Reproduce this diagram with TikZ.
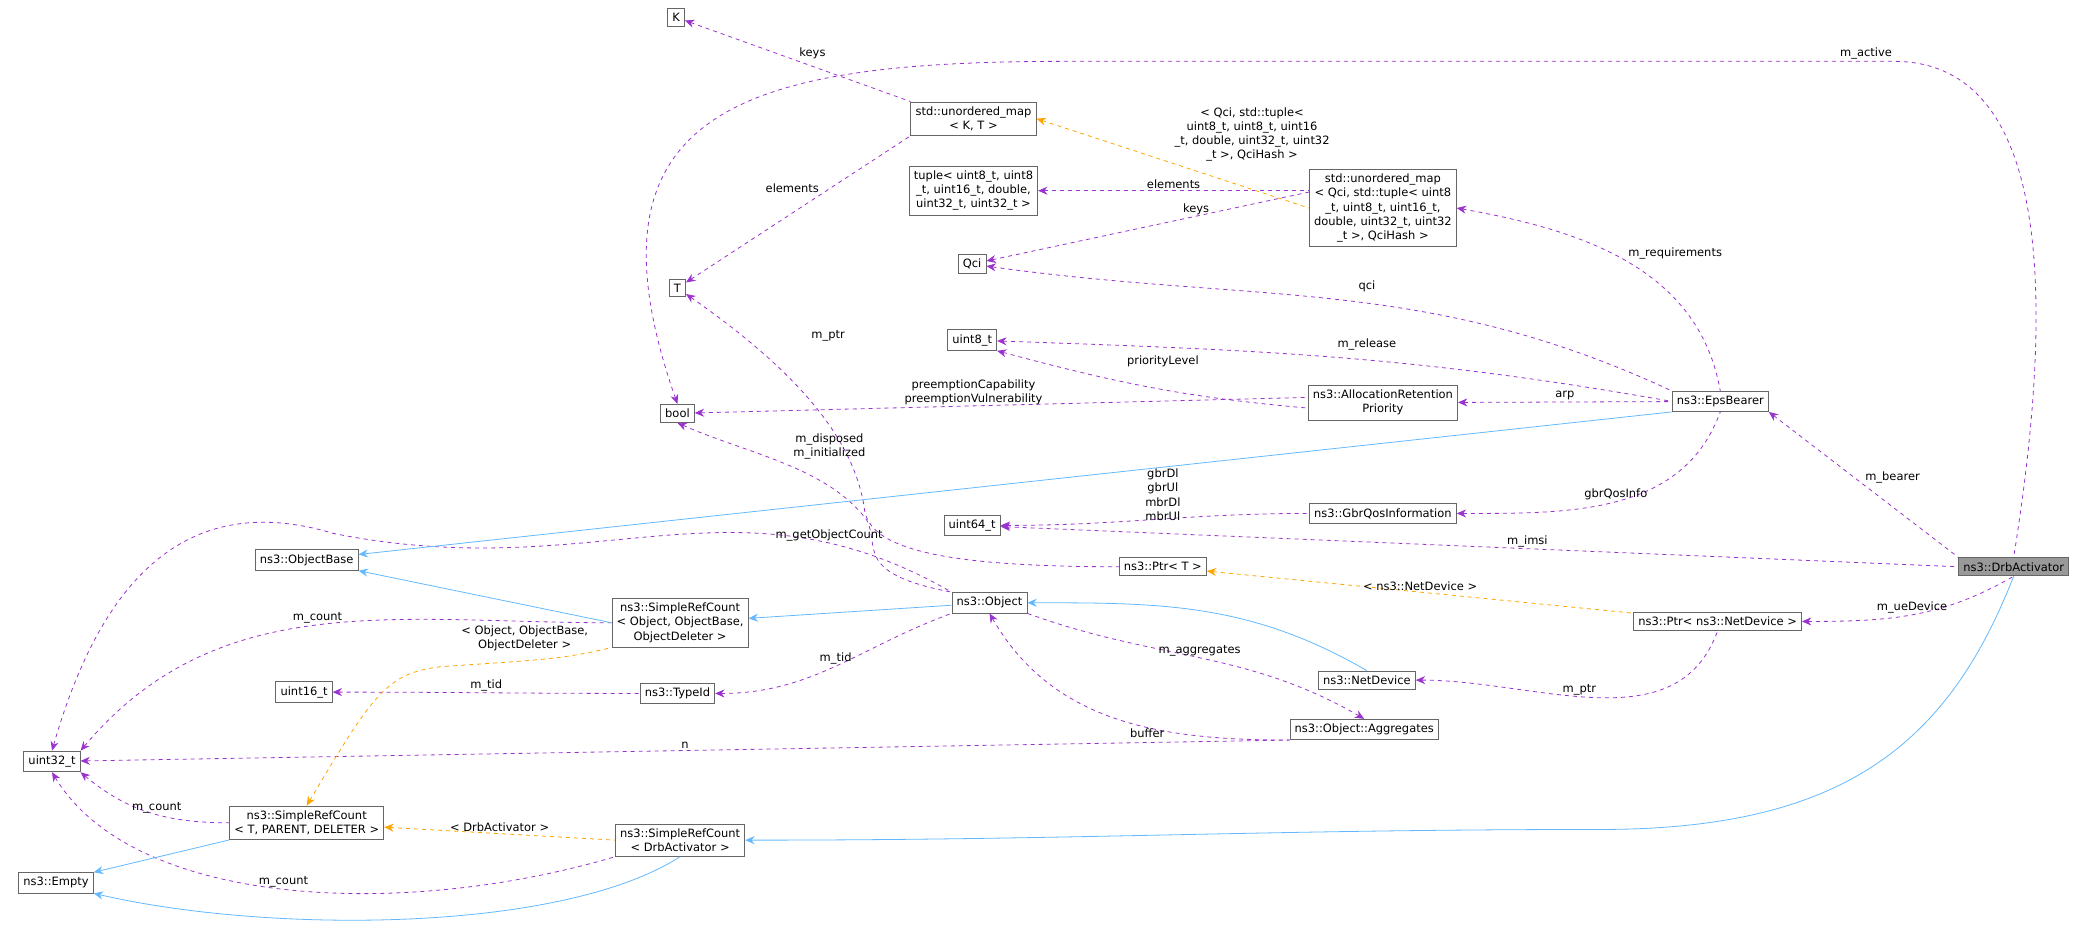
\documentclass[tikz,border=0pt]{standalone}
\usepackage{fontspec}
\setmainfont{DejaVu Sans}
\usetikzlibrary{arrows.meta}

\definecolor{mempurple}{HTML}{9A32CD}
\definecolor{tmplorange}{HTML}{FFA500}
\definecolor{inhblue}{HTML}{63B8FF}

\begin{document}
\begin{tikzpicture}[
        x=1pt, y=-1pt,
        every node/.style={font=\fontsize{8.6}{10.6}\selectfont},
        cls/.style={draw=black!60, fill=white, align=center, inner sep=3.5pt, line width=0.6pt},
        mem/.style={mempurple, dashed, line width=0.6pt, {Stealth[length=7pt,width=6pt]}-},
        tmpl/.style={tmplorange, dashed, line width=0.6pt, {Stealth[length=7pt,width=6pt]}-},
        inh/.style={inhblue, line width=0.6pt, {Stealth[length=7pt,width=6pt]}-},
        lbl/.style={align=center, inner sep=1pt, text=black}   ]
    \useasboundingbox (0,0) rectangle (1568,698);
    % classes
    \node[cls] (k) at (507,13) {K};
    \node[cls] (umapkt) at (730,89) {std::unordered\_map\\< K, T >};
    \node[cls] (tuple) at (730,143) {tuple< uint8\_t, uint8\\\_t, uint16\_t, double,\\uint32\_t, uint32\_t >};
    \node[cls] (qci) at (729,198) {Qci};
    \node[cls] (uinteight) at (729,255) {uint8\_t};
    \node[cls] (t) at (508,216) {T};
    \node[cls] (bool) at (508,310) {bool};
    \node[cls] (umapqci) at (1037,156) {std::unordered\_map\\< Qci, std::tuple< uint8\\\_t, uint8\_t, uint16\_t,\\double, uint32\_t, uint32\\\_t >, QciHash >};
    \node[cls] (allocret) at (1037,302) {ns3::AllocationRetention\\Priority};
    \node[cls] (epsbearer) at (1290,301) {ns3::EpsBearer};
    \node[cls] (gbrqos) at (1037,385) {ns3::GbrQosInformation};
    \node[cls] (uintsixtyfour) at (729,394) {uint64\_t};
    \node[cls] (ptrt) at (872,425) {ns3::Ptr< T >};
    \node[cls] (ptrnetdev) at (1288,466) {ns3::Ptr< ns3::NetDevice >};
    \node[cls, fill=black!40] (drbact) at (1510,425) {ns3::DrbActivator};
    \node[cls] (objbase) at (230,420) {ns3::ObjectBase};
    \node[cls] (srcobj) at (510,467) {ns3::SimpleRefCount\\< Object, ObjectBase,\\ObjectDeleter >};
    \node[cls] (object) at (742,452) {ns3::Object};
    \node[cls] (netdev) at (1025,510) {ns3::NetDevice};
    \node[cls] (uintsixteen) at (228,519) {uint16\_t};
    \node[cls] (typeid) at (508,520) {ns3::TypeId};
    \node[cls] (aggr) at (1023,547) {ns3::Object::Aggregates};
    \node[cls] (uintthirtytwo) at (39,571) {uint32\_t};
    \node[cls] (srct) at (230,617) {ns3::SimpleRefCount\\< T, PARENT, DELETER >};
    \node[cls] (srcdrb) at (510,630) {ns3::SimpleRefCount\\< DrbActivator >};
    \node[cls] (empty) at (42,662) {ns3::Empty};
    % members
    \draw[mem] (k) -- (umapkt.north west) node[lbl, pos=0.5, above right] {keys};
    \draw[mem] (t) -- (umapkt.south west) node[lbl, pos=0.6, above left] {elements};
    \draw[mem] (tuple) -- (umapqci.west |- tuple) node[lbl, midway, above] {elements};
    \draw[mem] (qci) -- ([yshift=12pt]umapqci.west) node[lbl, pos=0.65, above] {keys};
    \draw[mem] (umapqci.east) to[out=-10, in=100] node[lbl, pos=0.5, above right] {m\_requirements} (epsbearer.north);
    \draw[mem] (qci) to[out=-8, in=155] (epsbearer.north west);
    \node[lbl] (qcilbl) at (1025,215) {qci};
    \draw[mem] (uinteight) to[out=-2, in=170] (epsbearer.west);
    \node[lbl] (releaselbl) at (1025,258) {m\_release};
    \draw[mem] (uinteight.south east) to[out=-15, in=175] ([yshift=-4pt]allocret.west);
    \node[lbl] (prioritylbl) at (872,271) {priorityLevel};
    \draw[mem] (bool) -- ([yshift=4pt]allocret.west);
    \node[lbl] (preemptlbl) at (730,294) {preemptionCapability\\preemptionVulnerability};
    \draw[mem] (allocret) -- (epsbearer) node[lbl, midway, above] {arp};
    \draw[mem] (gbrqos.east) to[out=0, in=-110] node[lbl, pos=0.5, above] {gbrQosInfo} (epsbearer.south);
    \draw[mem] (uintsixtyfour) to[out=0, in=180] (gbrqos.west);
    \node[lbl] (gbrlbl) at (872,371) {gbrDl\\gbrUl\\mbrDl\\mbrUl};
    \draw[mem] (bool.north) .. controls (430,80) and (560,46) .. (800,46) -- (1420,46) .. controls (1530,46) and (1545,200) .. (drbact.north) node[lbl, pos=0, above left] {m\_active};
    \draw[mem] (epsbearer.south east) -- (drbact.north west) node[lbl, midway, above right] {m\_bearer};
    \draw[mem] (uintsixtyfour) -- (drbact.west) node[lbl, pos=0.55, above] {m\_imsi};
    \draw[mem] (ptrnetdev) to[out=0, in=-150] node[lbl, pos=0.5, above] {m\_ueDevice} (drbact.south);
    \draw[mem] (netdev) to[out=0, in=-110] node[lbl, pos=0.45, above] {m\_ptr} (ptrnetdev.south);
    \draw[mem] (t) .. controls (600,280) and (640,330) .. (648,380) .. controls (650,410) and (700,425) .. (ptrt.west);
    \node[lbl] (ptrlbl) at (621,252) {m\_ptr};
    \draw[mem] (bool.south) .. controls (560,340) and (620,350) .. (650,390) .. controls (660,410) and (640,430) .. (object.north west);
    \node[lbl] (disposedlbl) at (622,335) {m\_disposed\\m\_initialized};
    \draw[mem] (uintthirtytwo.north) .. controls (80,420) and (150,370) .. (250,400) .. controls (450,440) and (550,350) .. (object.north west) node[lbl, pos=0.8, above] {m\_getObjectCount};
    \draw[mem] (typeid) to[out=0, in=-160] node[lbl, pos=0.5, above] {m\_tid} (object.south west);
    \draw[mem] (aggr.north) to[out=150, in=-20] node[lbl, pos=0.5, above] {m\_aggregates} (object.south east);
    \draw[mem] (object.south) to[out=-60, in=180] node[lbl, pos=0.6, below] {buffer} (aggr.south west);
    \draw[mem] (uintthirtytwo) -- (aggr.south west) node[lbl, midway, above] {n};
    \draw[mem] (uintsixteen) to[out=0, in=180] node[lbl, pos=0.5, above] {m\_tid} (typeid.west);
    \draw[mem] (uintthirtytwo.north east) to[out=50, in=180] node[lbl, pos=0.5, above] {m\_count} (srcobj.west);
    \draw[mem] (uintthirtytwo.south east) to[out=-40, in=180] node[lbl, pos=0.55, above] {m\_count} (srct.west);
    \draw[mem] (uintthirtytwo.south) .. controls (100,680) and (300,690) .. (srcdrb.south west) node[lbl, pos=0.5, above] {m\_count};
    % templates
    \draw[tmpl] (umapkt.east) -- (umapqci.west) node[lbl, pos=0.5, above right] {< Qci, std::tuple<\\uint8\_t, uint8\_t, uint16\\\_t, double, uint32\_t, uint32\\\_t >, QciHash >};
    \draw[tmpl] (ptrt) -- (ptrnetdev) node[lbl, midway, above] {< ns3::NetDevice >};
    \draw[tmpl] (srct.north) .. controls (280,520) and (290,505) .. (330,500) .. controls (400,495) and (420,495) .. (srcobj.south west) node[lbl, pos=0.85, above left] {< Object, ObjectBase,\\ObjectDeleter >};
    \draw[tmpl] (srct) -- (srcdrb.west) node[lbl, midway, above] {< DrbActivator >};
    % inheritance
    \draw[inh] (objbase) -- (epsbearer.south west);
    \draw[inh] (objbase.south east) -- (srcobj.west);
    \draw[inh] (srcobj) -- (object);
    \draw[inh] (object.east) to[out=0, in=150] (netdev.north);
    \draw[inh] (srcdrb.east) to[out=0, in=180] (1200,622) .. controls (1380,622) and (1460,560) .. (drbact.south);
    \draw[inh] (empty.north east) -- (srct.south west);
    \draw[inh] (empty.south east) .. controls (200,700) and (420,700) .. (srcdrb.south);
\end{tikzpicture}
\end{document}
